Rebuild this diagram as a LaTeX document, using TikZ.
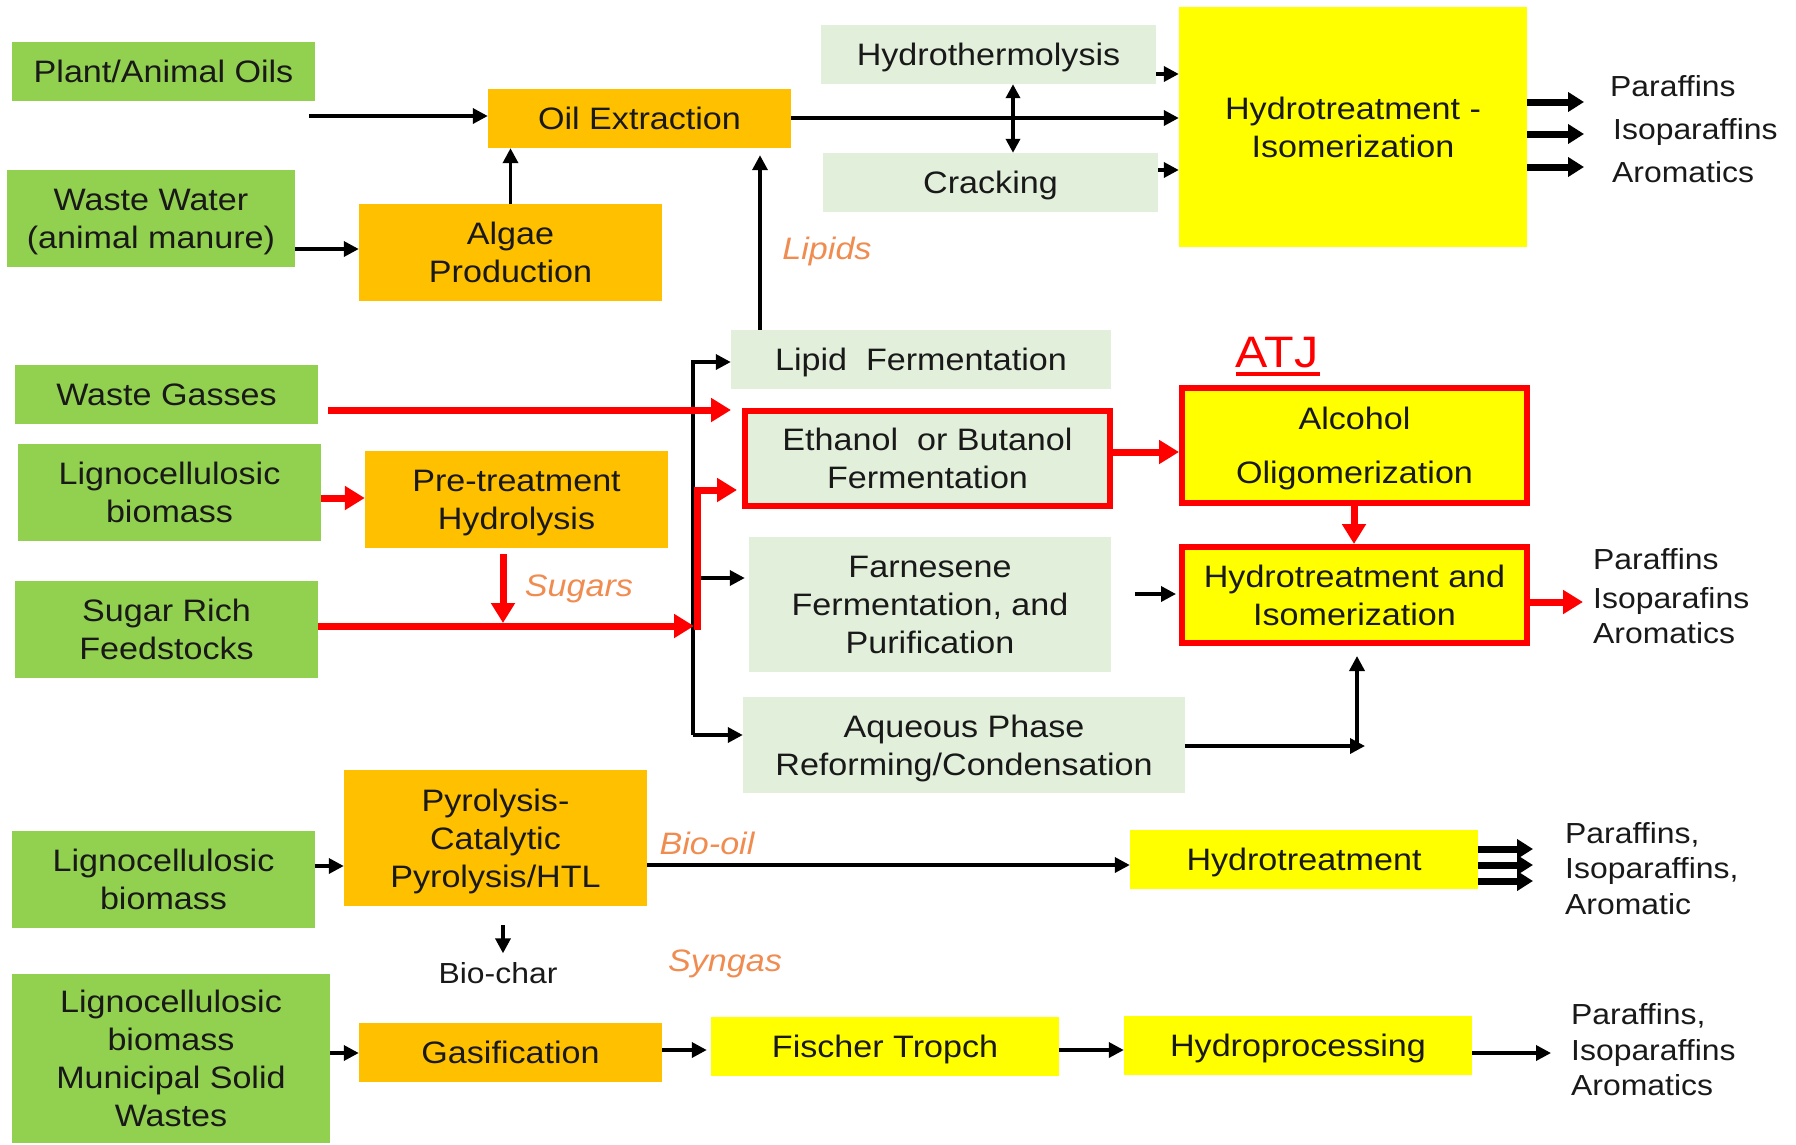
\documentclass[tikz,border=0pt]{standalone}
\usepackage{fontspec}
\setmainfont{Liberation Sans}[FakeStretch=1.1]
\usetikzlibrary{arrows.meta}
\definecolor{cgreen}{RGB}{146,208,80}
\definecolor{corange}{RGB}{255,192,0}
\definecolor{cyellow}{RGB}{255,255,0}
\definecolor{clight}{RGB}{226,239,218}
\definecolor{clabel}{RGB}{240,140,80}
\definecolor{ctext}{RGB}{25,25,25}
\newcommand\boxat[7]{\node[#2, minimum width={#4-#3}, minimum height={#6-#5}] (#1) at ({(#3+#4)/2},{(#5+#6)/2}) {#7};}
\begin{document}
\begin{tikzpicture}[x=1pt,y=-1pt,
  box/.style={rectangle, inner sep=0pt, align=center, text=ctext, font=\fontsize{31}{38}\selectfont, text depth=0pt},
  single/.style={text height=22pt},
  gbox/.style={box, fill=cgreen},
  obox/.style={box, fill=corange},
  ybox/.style={box, fill=cyellow},
  lbox/.style={box, fill=clight},
  redframe/.style={draw=red, line width=6pt},
  outtext/.style={anchor=west, inner sep=0pt, text=ctext, font=\fontsize{29}{35}\selectfont, text height=21pt, text depth=0pt},
  flowlabel/.style={inner sep=0pt, text=clabel, font=\fontsize{31}{38}\selectfont\itshape, text height=22pt, text depth=0pt},
  blk/.style={line width=3.5pt, -{Triangle[length=15pt,width=15pt]}},
  dbl/.style={line width=3.5pt, {Triangle[length=14pt,width=14pt]}-{Triangle[length=14pt,width=14pt]}},
  fat/.style={line width=7pt, -{Triangle[length=16pt,width=19pt]}},
  redarrow/.style={red, line width=7pt, -{Triangle[length=20pt,width=23pt]}},
]
\useasboundingbox[fill=white] (0,0) rectangle (1796,1144);

% ---------- boxes ----------
\boxat{plant}{gbox,single}{12}{315}{42}{101}{Plant/Animal Oils}
\boxat{oilx}{obox,single}{488}{791}{89}{148}{Oil Extraction}
\boxat{ww}{gbox}{7}{295}{170}{267}{Waste Water\\(animal manure)}
\boxat{algae}{obox}{359}{662}{204}{301}{Algae\\Production}
\boxat{htl}{lbox,single}{821}{1156}{25}{84}{Hydrothermolysis}
\boxat{crack}{lbox,single}{823}{1158}{153}{212}{Cracking}
\boxat{hione}{ybox}{1179}{1527}{7}{247}{Hydrotreatment -\\Isomerization}
\boxat{wg}{gbox,single}{15}{318}{365}{424}{Waste Gasses}
\boxat{ligone}{gbox}{18}{321}{444}{541}{Lignocellulosic\\biomass}
\boxat{pre}{obox}{365}{668}{451}{548}{Pre-treatment\\Hydrolysis}
\boxat{sugar}{gbox}{15}{318}{581}{678}{Sugar Rich\\Feedstocks}
\boxat{lipid}{lbox,single}{731}{1111}{330}{389}{Lipid\ \ Fermentation}
\boxat{eth}{lbox,redframe}{745}{1110}{411}{506}{Ethanol\ \ or Butanol\\Fermentation}
\boxat{alc}{ybox,redframe,font=\fontsize{31}{54}\selectfont}{1182}{1527}{388}{503}{Alcohol\\Oligomerization}
\boxat{farn}{lbox}{749}{1111}{537}{672}{Farnesene\\Fermentation, and\\Purification}
\boxat{hitwo}{ybox,redframe}{1182}{1527}{547}{643}{Hydrotreatment and\\Isomerization}
\boxat{aq}{lbox}{743}{1185}{697}{793}{Aqueous Phase\\Reforming/Condensation}
\boxat{ligtwo}{gbox}{12}{315}{831}{928}{Lignocellulosic\\biomass}
\boxat{pyro}{obox}{344}{647}{770}{906}{Pyrolysis-\\Catalytic\\Pyrolysis/HTL}
\boxat{ligthree}{gbox}{12}{330}{974}{1143}{Lignocellulosic\\biomass\\Municipal Solid\\Wastes}
\boxat{gas}{obox,single}{359}{662}{1023}{1082}{Gasification}
\boxat{ft}{ybox,single}{711}{1059}{1017}{1076}{Fischer Tropch}
\boxat{ht}{ybox,single}{1130}{1478}{830}{889}{Hydrotreatment}
\boxat{hp}{ybox,single}{1124}{1472}{1016}{1075}{Hydroprocessing}

% ---------- labels ----------
\node[flowlabel] (lipids) at (827,248) {Lipids};
\node[flowlabel] (sugars) at (579,585) {Sugars};
\node[flowlabel] (biooil) at (707,843) {Bio-oil};
\node[flowlabel] (syngas) at (725,960) {Syngas};
\node[outtext, anchor=center] (biochar) at (498,973) {Bio-char};
\node[inner sep=0pt, text=red, font=\fontsize{44}{50}\selectfont, text height=32pt, text depth=0pt] (atj) at (1277,351) {ATJ};
\draw[red, line width=4pt] (1236,374) -- (1320,374);

% ---------- outputs ----------
\node[outtext] (o1a) at (1610,86) {Paraffins};
\node[outtext] (o1b) at (1613,129) {Isoparaffins};
\node[outtext] (o1c) at (1612,172) {Aromatics};
\node[outtext] (o2a) at (1593,559) {Paraffins};
\node[outtext] (o2b) at (1593,598) {Isoparafins};
\node[outtext] (o2c) at (1593,633) {Aromatics};
\node[outtext] (o3a) at (1565,833) {Paraffins,};
\node[outtext] (o3b) at (1565,868) {Isoparaffins,};
\node[outtext] (o3c) at (1565,904) {Aromatic};
\node[outtext] (o4a) at (1571,1014) {Paraffins,};
\node[outtext] (o4b) at (1571,1050) {Isoparaffins};
\node[outtext] (o4c) at (1571,1085) {Aromatics};

% ---------- black connectors ----------
\coordinate (pstart) at (309,116);
\draw[blk] (pstart) -- (oilx.west |- pstart);
\draw[blk] (ww.east |- 0,249) -- (algae.west |- 0,249);
\draw[blk] (algae.north) -- (oilx.south -| algae.north);
\draw[blk, shorten >=7pt] (lipid.north -| 760,0) -- (oilx.south -| 760,0);
\draw[blk] (oilx.east |- 0,118) -- (hione.west |- 0,118);
\draw[blk] (htl.east |- 0,74) -- (hione.west |- 0,74);
\draw[blk] (crack.east |- 0,170) -- (hione.west |- 0,170);
\draw[dbl] (htl.south -| 1013,0) -- (crack.north -| 1013,0);
\foreach \yy in {102,134,167} \draw[fat] (hione.east |- 0,\yy) -- (1584,\yy);

\coordinate (bt) at (693,362);
\coordinate (bb) at (693,735);
\coordinate (bf) at (693,578);
\draw[blk] (bb) -- (bt) -- (lipid.west |- bt);
\draw[blk, shorten >=4pt] (bf) -- (farn.west |- bf);
\draw[blk] (bb) -- (aq.west |- bb);

\coordinate (fstart) at (1135,594);
\draw[blk, shorten >=3pt] (fstart) -- (hitwo.west |- fstart);
\coordinate (aqc) at (1357,746);
\draw[blk] (aq.east |- aqc) -- ([xshift=8pt]aqc);
\draw[blk, shorten >=10pt] (aqc) -- (hitwo.south -| aqc);

\draw[blk] (ligtwo.east |- 0,866) -- (pyro.west |- 0,866);
\draw[blk] (pyro.east |- 0,865) -- (ht.west |- 0,865);
\draw[blk, shorten <=19pt, shorten >=9pt] (pyro.south -| 503,0) -- (biochar.north -| 503,0);
\draw[blk] (ligthree.east |- 0,1053) -- (gas.west |- 0,1053);
\draw[blk, shorten >=4pt] (gas.east |- 0,1050) -- (ft.west |- 0,1050);
\draw[blk] (ft.east |- 0,1050) -- (hp.west |- 0,1050);
\draw[blk] (hp.east |- 0,1053) -- (1551,1053);
\foreach \yy in {849,865,881} \draw[fat] (ht.east |- 0,\yy) -- (1533,\yy);

% ---------- red connectors ----------
\coordinate (sj) at (697,626);
\draw[redarrow, shorten <=10pt, shorten >=11pt] (wg.east |- 0,410) -- (eth.west |- 0,410);
\draw[redarrow] (ligone.east |- 0,498) -- (pre.west |- 0,498);
\draw[redarrow, shorten <=6pt, shorten >=3pt] (pre.south -| 503,0) -- (sj -| 503,0);
\draw[redarrow, shorten >=3pt] (sugar.east |- sj) -- (sj);
\draw[redarrow, shorten >=5pt] ([yshift=-3.5pt]sj) -- (sj |- 0,490) -- (eth.west |- 0,490);
\draw[redarrow] (eth.east |- 0,452) -- (alc.west |- 0,452);
\draw[redarrow] (alc.south -| 1354,0) -- (hitwo.north -| 1354,0);
\draw[redarrow] (hitwo.east |- 0,602) -- (1583,602);
\end{tikzpicture}
\end{document}
